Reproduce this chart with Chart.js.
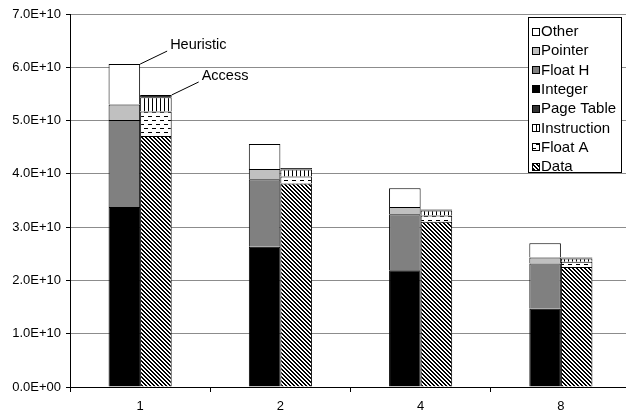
<!DOCTYPE html>
<html>
<head>
<meta charset="utf-8">
<script src="https://cdn.jsdelivr.net/npm/chart.js@4/dist/chart.umd.min.js"></script>
<style>
  html, body { margin: 0; padding: 0; background: #fff; overflow: hidden; width: 626px; height: 415px; }
  canvas { display: block; }
</style>
</head>
<body>
<canvas id="c" width="631" height="415"></canvas>
<script>
// ---- Data ----
const categories = ['1', '2', '4', '8'];
// Heuristic stack (bottom to top)
const integerVals = [3.38e10, 2.63e10, 2.19e10, 1.47e10];
const floatHVals  = [1.63e10, 1.27e10, 1.05e10, 0.85e10];
const pointerVals = [0.29e10, 0.19e10, 0.14e10, 0.11e10];
const otherVals   = [0.76e10, 0.47e10, 0.35e10, 0.27e10];
// Access stack (bottom to top)
const dataVals        = [4.71e10, 3.82e10, 3.10e10, 2.25e10];
const floatAVals      = [0.46e10, 0.13e10, 0.12e10, 0.10e10];
const instructionVals = [0.27e10, 0.13e10, 0.09e10, 0.06e10];
const pageTableVals   = [0.04e10, 0.03e10, 0.02e10, 0.02e10];
// Tick labels
const yTickLabels = ['0.0E+00', '1.0E+10', '2.0E+10', '3.0E+10', '4.0E+10', '5.0E+10', '6.0E+10', '7.0E+10'];
const legendOrder = ['Other', 'Pointer', 'Float H', 'Integer', 'Page Table', 'Instruction', 'Float A', 'Data'];
const stackLabels = ['Heuristic', 'Access'];

// ---- Patterns ----
function makePattern(w, h, draw) {
  const c = document.createElement('canvas');
  c.width = w; c.height = h;
  const g = c.getContext('2d');
  g.fillStyle = '#fff';
  g.fillRect(0, 0, w, h);
  g.fillStyle = '#000';
  draw(g);
  return g.createPattern(c, 'repeat');
}
const ctxMain = document.getElementById('c').getContext('2d');
const dataPattern = makePattern(4, 4, g => {
  for (let y = 0; y < 4; y++) {
    g.fillRect(y % 4, y, 1, 1);
    g.fillRect((y + 1) % 4, y, 1, 1);
  }
});
const floatAPattern = makePattern(8, 8, g => {
  g.fillRect(0, 0, 4, 1);
  g.fillRect(4, 4, 4, 1);
});
const instrPattern = makePattern(4, 1, g => {
  g.fillRect(0, 0, 1, 1);
});

const styles = {
  'Integer':     '#000000',
  'Float H':     '#808080',
  'Pointer':     '#c0c0c0',
  'Other':       '#ffffff',
  'Data':        dataPattern,
  'Float A':     floatAPattern,
  'Instruction': instrPattern,
  'Page Table':  '#333333'
};

function ds(label, data, stack) {
  return {
    label, data, stack,
    backgroundColor: styles[label],
    borderColor: '#000',
    borderWidth: 1,
    borderSkipped: 'bottom'
  };
}

const datasets = [
  ds('Integer', integerVals, 'h'),
  ds('Float H', floatHVals, 'h'),
  ds('Pointer', pointerVals, 'h'),
  ds('Other', otherVals, 'h'),
  ds('Data', dataVals, 'a'),
  ds('Float A', floatAVals, 'a'),
  ds('Instruction', instructionVals, 'a'),
  ds('Page Table', pageTableVals, 'a')
];

const FONT = '"Liberation Sans", Arial, sans-serif';

const legendPlugin = {
  id: 'boxLegend',
  afterDraw(chart) {
    const g = chart.ctx;
    const x0 = 528.5, y0 = 17.5, w = 93, h = 155;
    g.save();
    g.fillStyle = '#fff';
    g.fillRect(x0, y0, w, h);
    g.strokeStyle = '#000';
    g.lineWidth = 1;
    g.strokeRect(x0, y0, w, h);
    g.font = '15px ' + FONT;
    g.textBaseline = 'middle';
    g.textAlign = 'left';
    legendOrder.forEach((lab, i) => {
      const cy = 31.5 + i * 19.3;
      g.fillStyle = styles[lab];
      g.fillRect(532.5, Math.round(cy) - 3.5, 7, 7);
      g.strokeStyle = '#000';
      g.strokeRect(532.5, Math.round(cy) - 3.5, 7, 7);
      g.fillStyle = '#000';
      g.fillText(lab, 541, cy + 0.5);
    });
    g.restore();
  }
};

const annotPlugin = {
  id: 'stackNotes',
  afterDatasetsDraw(chart) {
    const g = chart.ctx;
    g.save();
    g.strokeStyle = '#000';
    g.lineWidth = 1;
    g.fillStyle = '#000';
    g.font = '14.5px ' + FONT;
    g.textBaseline = 'middle';
    g.textAlign = 'left';
    const tops = [3, 7]; // top dataset of each stack
    tops.forEach((di, k) => {
      const el = chart.getDatasetMeta(di).data[0];
      const x = el.x + el.width / 2;
      const y = el.y;
      g.beginPath();
      g.moveTo(x, y);
      g.lineTo(x + 27, y - 13);
      g.stroke();
      g.fillText(stackLabels[k], x + 30, y - 19);
    });
    g.restore();
  }
};

new Chart(ctxMain, {
  type: 'bar',
  data: { labels: categories, datasets },
  options: {
    responsive: false,
    animation: false,
    devicePixelRatio: 1,
    layout: { padding: { top: 14, right: 0, bottom: 0, left: 0 } },
    plugins: {
      legend: { display: false },
      tooltip: { enabled: false }
    },
    datasets: { bar: { categoryPercentage: 0.45, barPercentage: 1.0 } },
    scales: {
      x: {
        stacked: true,
        grid: { display: true, drawOnChartArea: false, drawTicks: true, tickLength: 5, tickColor: '#000', offset: true },
        border: { display: true, color: '#000', width: 1 },
        ticks: { color: '#000', font: { family: FONT, size: 13 }, padding: 7, maxRotation: 0 },
        afterFit(s) { s.height = 28; }
      },
      y: {
        stacked: true,
        min: 0,
        max: 7e10,
        grid: { color: '#8c8c8c', tickColor: '#000', tickLength: 4, lineWidth: 1 },
        border: { display: true, color: '#000', width: 1 },
        ticks: {
          stepSize: 1e10,
          color: '#000',
          font: { family: FONT, size: 13 },
          padding: 5,
          callback: (v, i) => yTickLabels[i]
        },
        afterFit(s) { s.width = 70; }
      }
    }
  },
  plugins: [annotPlugin, legendPlugin]
});
</script>
</body>
</html>
